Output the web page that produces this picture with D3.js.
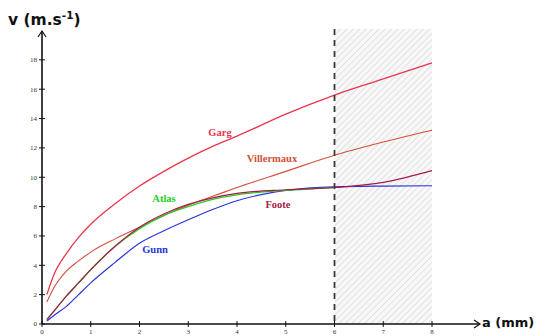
<!DOCTYPE html>
<html>
<head>
<meta charset="utf-8">
<script src="https://cdn.jsdelivr.net/npm/d3@7"></script>
<style>
  html, body { margin: 0; padding: 0; background: #fff; }
  svg { display: block; }
</style>
</head>
<body>
<svg id="chart" width="536" height="336"></svg>
<script>
// Drop size a (mm) against terminal velocity v (m/s) for five models
const aValues   = [0.1, 0.25, 0.5, 0.75, 1, 1.5, 2, 2.5, 3, 3.5, 4, 5, 6, 7, 8];
const garg      = [2.0, 3.4, 4.8, 5.9, 6.8, 8.2, 9.4, 10.4, 11.3, 12.1, 12.8, 14.3, 15.6, 16.7, 17.8];
const villermaux= [1.5, 2.5, 3.6, 4.3, 4.9, 5.8, 6.6, 7.4, 8.1, 8.7, 9.3, 10.4, 11.5, 12.4, 13.2];
const foote     = [0.3, 0.9, 1.9, 2.8, 3.7, 5.3, 6.6, 7.5, 8.15, 8.6, 8.9, 9.15, 9.3, 9.65, 10.45];
const atlas     = [0.3, 0.9, 1.9, 2.8, 3.7, 5.3, 6.5, 7.4, 8.0, 8.5, 8.8, 9.1, 9.3];
const gunn      = [0.2, 0.6, 1.2, 2.0, 2.8, 4.2, 5.5, 6.35, 7.1, 7.8, 8.4, 9.1, 9.35, 9.4, 9.42];

const xTicks = [0, 1, 2, 3, 4, 5, 6, 7, 8];
const yTicks = [0, 2, 4, 6, 8, 10, 12, 14, 16, 18];
const validLimit = 6;   // dashed limit; region beyond is hatched
const xMax = 8;

const series = [
  { name: "Garg",       values: garg,       color: "#e8364a", width: 1.3, label: [220, 136] },
  { name: "Villermaux", values: villermaux, color: "#d2503a", width: 1.1, label: [272, 162] },
  { name: "Gunn",       values: gunn,       color: "#2a32e0", width: 1.2, label: [155, 253] },
  { name: "Atlas",      values: atlas,      color: "#22d022", width: 1.3, label: [164, 202] },
  { name: "Foote",      values: foote,      color: "#a81a48", width: 1.2, label: [278, 208] }
];

const svg = d3.select("#chart");
const x = d3.scaleLinear().domain([0, 8]).range([42, 432]);
const y = d3.scaleLinear().domain([0, 20]).range([324, 30.5]);

// hatch pattern for the region beyond the limit
const defs = svg.append("defs");
const pat = defs.append("pattern")
  .attr("id", "hatch").attr("patternUnits", "userSpaceOnUse")
  .attr("width", 4.5).attr("height", 4.5)
  .attr("patternTransform", "rotate(45)");
pat.append("rect").attr("width", 4.5).attr("height", 4.5).attr("fill", "#f8f8f8");
pat.append("line").attr("x1", 0).attr("y1", 0).attr("x2", 0).attr("y2", 4.5)
  .attr("stroke", "#cdcdcd").attr("stroke-width", 1);

svg.append("rect")
  .attr("x", x(validLimit)).attr("y", 29)
  .attr("width", x(xMax) - x(validLimit)).attr("height", y(0) - 29)
  .attr("fill", "url(#hatch)");

// curves
const line = d3.line()
  .x((d, i) => x(aValues[i]))
  .y(d => y(d))
  .curve(d3.curveMonotoneX);

svg.append("g").selectAll("path").data(series).join("path")
  .attr("d", s => line(s.values))
  .attr("fill", "none")
  .attr("stroke", s => s.color)
  .attr("stroke-width", s => s.width);

// dashed limit line
svg.append("line")
  .attr("x1", x(validLimit)).attr("x2", x(validLimit))
  .attr("y1", 29).attr("y2", y(0))
  .attr("stroke", "#3a3a3a").attr("stroke-width", 1.8)
  .attr("stroke-dasharray", "6,5");

// curve labels
svg.append("g").selectAll("text").data(series).join("text")
  .attr("x", s => s.label[0]).attr("y", s => s.label[1])
  .attr("text-anchor", "middle")
  .attr("font-family", "'Liberation Serif', 'DejaVu Serif', serif")
  .attr("font-weight", "bold")
  .attr("font-size", 10.5)
  .attr("fill", s => s.color)
  .text(s => s.name);

// axes
const axisColor = "#111";
svg.append("line")
  .attr("x1", x(0)).attr("x2", 479).attr("y1", y(0)).attr("y2", y(0))
  .attr("stroke", axisColor).attr("stroke-width", 1.6);
svg.append("path")
  .attr("d", `M474,${y(0) - 4} L480,${y(0)} L474,${y(0) + 4}`)
  .attr("fill", "none").attr("stroke", axisColor).attr("stroke-width", 1.2);

svg.append("line")
  .attr("x1", x(0)).attr("x2", x(0)).attr("y1", y(0)).attr("y2", 31)
  .attr("stroke", axisColor).attr("stroke-width", 1.6);
svg.append("path")
  .attr("d", `M${x(0) - 4},37 L${x(0)},31 L${x(0) + 4},37`)
  .attr("fill", "none").attr("stroke", axisColor).attr("stroke-width", 1.2);

// tick marks and labels
const tickFont = "'Liberation Serif', 'DejaVu Serif', serif";
const xt = svg.append("g").selectAll("g").data(xTicks).join("g")
  .attr("transform", d => `translate(${x(d)},${y(0)})`);
xt.append("line").attr("y1", -3).attr("y2", 3).attr("stroke", axisColor).attr("stroke-width", 1);
xt.append("text").attr("y", 9.5).attr("text-anchor", "middle")
  .attr("font-family", tickFont).attr("font-size", 7).attr("fill", "#333")
  .text(d => d);

const yt = svg.append("g").selectAll("g").data(yTicks).join("g")
  .attr("transform", d => `translate(${x(0)},${y(d)})`);
yt.append("line").attr("x1", -3).attr("x2", 3).attr("stroke", axisColor).attr("stroke-width", 1);
yt.append("text").attr("x", -5).attr("dy", "0.35em").attr("text-anchor", "end")
  .attr("font-family", tickFont).attr("font-size", 7).attr("fill", "#333")
  .text(d => d);

// axis titles
const titleFont = "'DejaVu Sans', Verdana, sans-serif";
const vt = svg.append("text")
  .attr("x", 8).attr("y", 25)
  .attr("font-family", titleFont).attr("font-weight", "bold").attr("font-size", 15.5)
  .attr("fill", "#111");
vt.append("tspan").text("v (m.s");
vt.append("tspan").attr("dy", -6).attr("font-size", 10.5).text("-1");
vt.append("tspan").attr("dy", 6).text(")");

svg.append("text")
  .attr("x", 482).attr("y", 327)
  .attr("font-family", titleFont).attr("font-weight", "bold").attr("font-size", 13)
  .attr("fill", "#111")
  .text("a (mm)");
</script>
</body>
</html>
